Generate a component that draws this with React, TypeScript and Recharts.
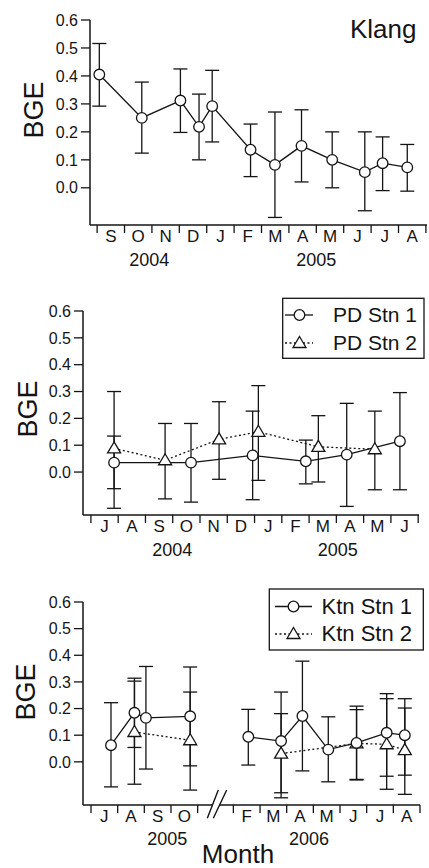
import React from "react";
import { ErrorBar, Line, LineChart, XAxis, YAxis } from "recharts";

const INK = "#141414";
const FONT = "'Liberation Sans', Arial, Helvetica, sans-serif";

// Klang: x = months since 1 Sep 2004
const klangMonth = [0.08, 1.63, 3.04, 3.72, 4.2, 5.6, 6.49, 7.46, 8.58, 9.77, 10.42, 11.32];
const klangBGE = [0.405, 0.25, 0.312, 0.218, 0.292, 0.136, 0.082, 0.15, 0.1, 0.056, 0.088, 0.073];
const klangLow = [0.292, 0.124, 0.198, 0.1, 0.164, 0.04, -0.106, 0.021, 0.0, -0.082, -0.01, -0.012];
const klangHigh = [0.516, 0.378, 0.425, 0.335, 0.42, 0.228, 0.271, 0.279, 0.2, 0.2, 0.182, 0.155];
const klangMonthLabels = ["S", "O", "N", "D", "J", "F", "M", "A", "M", "J", "J", "A"];
const klangYears = ["2004", "2005"];
const klangYearPos = [1.9, 8.0];

// Port Dickson: x = months since 1 Jul 2004
const pd1Month = [0.85, 3.67, 5.93, 7.88, 9.38, 11.33];
const pd1BGE = [0.035, 0.035, 0.062, 0.04, 0.065, 0.115];
const pd1Low = [-0.062, -0.112, -0.103, -0.044, -0.128, -0.066];
const pd1High = [0.134, 0.181, 0.227, 0.119, 0.256, 0.296];
const pd2Month = [0.85, 2.72, 4.7, 6.14, 8.34, 10.41];
const pd2BGE = [0.088, 0.044, 0.122, 0.15, 0.094, 0.085];
const pd2Low = [-0.135, -0.1, -0.027, -0.031, -0.037, -0.066];
const pd2High = [0.3, 0.181, 0.262, 0.322, 0.21, 0.227];
const pdMonthLabels = ["J", "A", "S", "O", "N", "D", "J", "F", "M", "A", "M", "J"];
const pdYears = ["2004", "2005"];
const pdYearPos = [2.98, 9.05];
const pdNames = ["PD Stn 1", "PD Stn 2"];

// Kuantan: x = months since 1 Jul 2005, Nov-Jan squeezed out by the axis break
const ktn1Month = [0.75, 1.63, 2.06, 3.72, 5.9, 7.13, 7.93, 8.9, 9.96, 11.09, 11.77];
const ktn1BGE = [0.0625, 0.184, 0.165, 0.171, 0.094, 0.078, 0.172, 0.046, 0.071, 0.109, 0.1];
const ktn1Low = [-0.094, 0.054, -0.027, -0.015, -0.012, -0.116, -0.034, -0.075, -0.066, -0.054, -0.05];
const ktn1High = [0.222, 0.314, 0.358, 0.356, 0.197, 0.262, 0.378, 0.169, 0.209, 0.256, 0.237];
const ktn2Month = [1.63, 3.72, 7.13, 9.96, 11.09, 11.77];
const ktn2BGE = [0.112, 0.081, 0.031, 0.069, 0.066, 0.044];
const ktn2Low = [-0.084, -0.106, -0.135, -0.068, -0.103, -0.122];
const ktn2High = [0.303, 0.262, 0.181, 0.196, 0.237, 0.202];
const ktnMonthLabels = ["J", "A", "S", "O", "F", "M", "A", "M", "J", "J", "A"];
const ktnMonthMid = [0.5, 1.5, 2.5, 3.5, 5.84, 6.84, 7.84, 8.84, 9.84, 10.84, 11.84];
const ktnBounds = [0, 1, 2, 3, 4, 5.34, 6.34, 7.34, 8.34, 9.34, 10.34, 11.34, 12.34];
const ktnYears = ["2005", "2006"];
const ktnYearPos = [2.86, 8.18];
const ktnNames = ["Ktn Stn 1", "Ktn Stn 2"];
const KTN_BREAK = 4.67;

const yTicks = [0, 0.1, 0.2, 0.3, 0.4, 0.5, 0.6];
const twelve = Array.from({ length: 13 }, (_, i) => i);
const twelveMid = Array.from({ length: 12 }, (_, i) => i + 0.5);
// year ticks share the month axis, nudged so they never collide with a month boundary
const YEAR_NUDGE = 0.001;

const rows = (xs: number[], ys: number[], lo: number[], hi: number[]) =>
  xs.map((x, i) => ({ x, y: ys[i], err: [ys[i] - lo[i], hi[i] - ys[i]] }));

const CircleDot = (p: any) =>
  p.cx == null ? null : (
    <circle key={`c${p.index}`} cx={p.cx} cy={p.cy} r={5.3} fill="#fff" stroke={INK} strokeWidth={1.3} />
  );

const TriDot = (p: any) =>
  p.cx == null ? null : (
    <path
      key={`t${p.index}`}
      d={`M${p.cx},${p.cy - 6.5}L${p.cx + 6.5},${p.cy + 4.5}L${p.cx - 6.5},${p.cy + 4.5}Z`}
      fill="#fff"
      stroke={INK}
      strokeWidth={1.3}
    />
  );

type Series = { data: any[]; dashed?: boolean; tri?: boolean };

function Panel(props: {
  top: number;
  height: number;
  margin: any;
  yWidth: number;
  yMin: number;
  xDomain: [number, number];
  bounds: number[];
  mids: number[];
  labels: string[];
  yearPos: number[];
  years: string[];
  axisH: number;
  yearBase: number;
  series: Series[];
}) {
  const { mids, labels, yearPos, years } = props;
  const near = (a: number, b: number) => Math.abs(a - b) < 1e-6;
  const monthTick = (p: any) => {
    const v = p.payload.value;
    const yi = yearPos.findIndex((m) => near(m + YEAR_NUDGE, v));
    if (yi >= 0) {
      return (
        <text x={p.x} y={p.y + props.yearBase} textAnchor="middle" fontSize={18} fill={INK}>
          {years[yi]}
        </text>
      );
    }
    const i = mids.findIndex((m) => near(m, v));
    if (i < 0) {
      return <line x1={p.x} x2={p.x} y1={p.y} y2={p.y + 8} stroke={INK} strokeWidth={1.3} />;
    }
    return (
      <text x={p.x} y={p.y + 17} textAnchor="middle" fontSize={17} fill={INK}>
        {labels[i]}
      </text>
    );
  };
  const ticks = [...props.bounds, ...mids, ...yearPos.map((v) => v + YEAR_NUDGE)].sort((a, b) => a - b);
  return (
    <div style={{ position: "absolute", left: 0, top: props.top }}>
      <LineChart width={429} height={props.height} margin={props.margin}>
        <XAxis
          dataKey="x"
          type="number"
          domain={props.xDomain}
          allowDataOverflow
          ticks={ticks}
          interval={0}
          tick={monthTick}
          tickLine={false}
          tickSize={0}
          tickMargin={0}
          height={props.axisH}
          axisLine={{ stroke: INK, strokeWidth: 1.5 }}
        />
        <YAxis
          type="number"
          domain={[props.yMin, 0.6]}
          allowDataOverflow
          ticks={yTicks}
          interval={0}
          width={props.yWidth}
          tickFormatter={(v: number) => v.toFixed(1)}
          tick={{ fontSize: 16, fill: INK }}
          tickSize={9}
          tickMargin={3}
          tickLine={{ stroke: INK, strokeWidth: 1.3 }}
          axisLine={{ stroke: INK, strokeWidth: 1.5 }}
        />
        {props.series.map((s, k) => (
          <Line
            key={k}
            data={s.data}
            dataKey="y"
            type="linear"
            stroke={INK}
            strokeWidth={1.3}
            strokeDasharray={s.dashed ? "2 2.5" : undefined}
            dot={s.tri ? TriDot : CircleDot}
            activeDot={false}
            legendType="none"
            isAnimationActive={false}
          >
            <ErrorBar dataKey="err" width={7} stroke={INK} strokeWidth={1.3} direction="y" isAnimationActive={false} />
          </Line>
        ))}
      </LineChart>
    </div>
  );
}

function LegendBox(props: {
  x: number;
  y: number;
  w: number;
  h: number;
  rowY: number[];
  names: string[];
  lineX: [number, number];
  markX: number;
  textX: number;
  fontSize: number;
}) {
  const { rowY, lineX, markX } = props;
  return (
    <g>
      <rect x={props.x} y={props.y} width={props.w} height={props.h} fill="#fff" stroke={INK} strokeWidth={1.3} />
      <line x1={lineX[0]} x2={lineX[1]} y1={rowY[0]} y2={rowY[0]} stroke={INK} strokeWidth={1.3} />
      <circle cx={markX} cy={rowY[0]} r={5.3} fill="#fff" stroke={INK} strokeWidth={1.3} />
      <line x1={lineX[0]} x2={lineX[1]} y1={rowY[1]} y2={rowY[1]} stroke={INK} strokeWidth={1.3} strokeDasharray="2 2.5" />
      <path
        d={`M${markX},${rowY[1] - 6.5}L${markX + 6.5},${rowY[1] + 4.5}L${markX - 6.5},${rowY[1] + 4.5}Z`}
        fill="#fff"
        stroke={INK}
        strokeWidth={1.3}
      />
      <text x={props.textX} y={rowY[0] + 7} fontSize={props.fontSize} fill={INK}>
        {props.names[0]}
      </text>
      <text x={props.textX} y={rowY[1] + 7} fontSize={props.fontSize} fill={INK}>
        {props.names[1]}
      </text>
    </g>
  );
}

export default function App() {
  const klang = rows(klangMonth, klangBGE, klangLow, klangHigh);
  const pd1 = rows(pd1Month, pd1BGE, pd1Low, pd1High);
  const pd2 = rows(pd2Month, pd2BGE, pd2Low, pd2High);
  const ktn1 = rows(ktn1Month, ktn1BGE, ktn1Low, ktn1High);
  const ktn2 = rows(ktn2Month, ktn2BGE, ktn2Low, ktn2High);

  return (
    <div
      style={{ position: "absolute", left: 0, top: 0, width: 429, height: 868, background: "#fff", fontFamily: FONT }}
    >
      <Panel
        top={0}
        height={290}
        margin={{ top: 20, right: 2, left: 0, bottom: 0 }}
        yWidth={90}
        yMin={-0.133}
        xDomain={[-0.26, 12.04]}
        bounds={twelve}
        mids={twelveMid}
        labels={klangMonthLabels}
        yearPos={klangYearPos}
        years={klangYears}
        axisH={65}
        yearBase={41}
        series={[{ data: klang }]}
      />
      <Panel
        top={290}
        height={290}
        margin={{ top: 21, right: 10, left: 0, bottom: 0 }}
        yWidth={83}
        yMin={-0.16}
        xDomain={[-0.29, 12.03]}
        bounds={twelve}
        mids={twelveMid}
        labels={pdMonthLabels}
        yearPos={pdYearPos}
        years={pdYears}
        axisH={65}
        yearBase={41}
        series={[{ data: pd2, dashed: true, tri: true }, { data: pd1 }]}
      />
      <Panel
        top={580}
        height={288}
        margin={{ top: 22, right: 9, left: 0, bottom: 0 }}
        yWidth={83}
        yMin={-0.162}
        xDomain={[-0.3, 12.34]}
        bounds={ktnBounds}
        mids={ktnMonthMid}
        labels={ktnMonthLabels}
        yearPos={ktnYearPos}
        years={ktnYears}
        axisH={63}
        yearBase={40}
        series={[
          { data: ktn2.filter((r) => r.x < KTN_BREAK), dashed: true, tri: true },
          { data: ktn2.filter((r) => r.x > KTN_BREAK), dashed: true, tri: true },
          { data: ktn1.filter((r) => r.x < KTN_BREAK) },
          { data: ktn1.filter((r) => r.x > KTN_BREAK) },
        ]}
      />
      <svg
        width={429}
        height={868}
        style={{ position: "absolute", left: 0, top: 0, pointerEvents: "none" }}
        fontFamily={FONT}
      >
        <text x={350} y={38} fontSize={26} fill={INK}>
          Klang
        </text>
        <text transform="translate(43,110) rotate(-90)" textAnchor="middle" fontSize={27} fill={INK}>
          BGE
        </text>
        <text transform="translate(37,409) rotate(-90)" textAnchor="middle" fontSize={27} fill={INK}>
          BGE
        </text>
        <text transform="translate(35,692) rotate(-90)" textAnchor="middle" fontSize={27} fill={INK}>
          BGE
        </text>
        <text x={238} y={863} textAnchor="middle" fontSize={26} fill={INK}>
          Month
        </text>
        <LegendBox
          x={282.7}
          y={298.3}
          w={141.3}
          h={60}
          rowY={[315, 343]}
          names={pdNames}
          lineX={[285, 313]}
          markX={299.5}
          textX={333}
          fontSize={21}
        />
        <LegendBox
          x={269.3}
          y={589}
          w={154}
          h={61}
          rowY={[606.5, 634]}
          names={ktnNames}
          lineX={[275, 312]}
          markX={293.5}
          textX={321.5}
          fontSize={22}
        />
        {/* axis break */}
        <rect x={213} y={802.5} width={6} height={5} fill="#fff" />
        <line x1={207.3} y1={818.3} x2={218.3} y2={790} stroke={INK} strokeWidth={1.4} />
        <line x1={213.3} y1={818.3} x2={226.7} y2={790} stroke={INK} strokeWidth={1.4} />
      </svg>
    </div>
  );
}
